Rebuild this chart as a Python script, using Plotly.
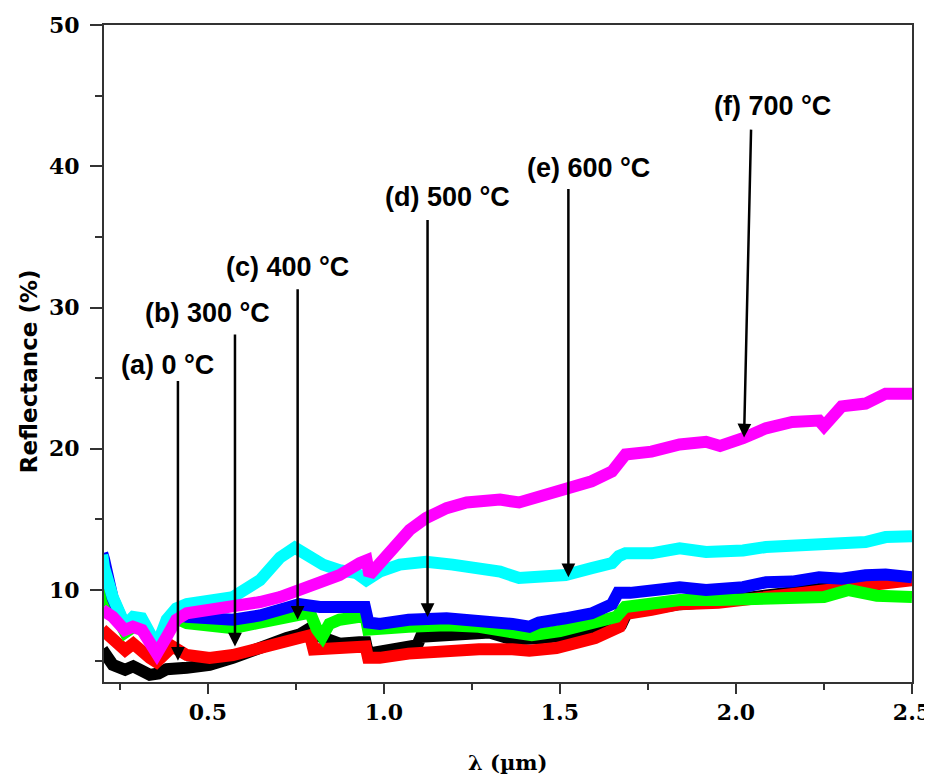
import plotly.graph_objects as go

# ---------------- data ----------------
wl_a = [0.20, 0.21, 0.23, 0.265, 0.288, 0.312, 0.335, 0.36, 0.383, 0.44, 0.505, 0.571, 0.648, 0.724,
        0.76, 0.79, 0.82, 0.874, 0.93, 0.948, 0.955, 0.988, 1.07, 1.095, 1.105, 1.178, 1.25, 1.30,
        1.365, 1.413, 1.45, 1.55, 1.65, 1.675, 1.69, 1.76, 1.84, 1.95, 2.05, 2.15, 2.25, 2.35, 2.45, 2.5]
r_a = [5.8, 5.4, 4.7, 4.35, 4.6, 4.3, 4.0, 4.1, 4.4, 4.5, 4.7, 5.2, 6.0, 6.6,
       6.85, 7.3, 6.7, 6.2, 6.3, 6.3, 5.5, 5.6, 6.0, 6.1, 6.7, 6.8, 7.1, 7.0,
       6.5, 6.45, 6.6, 6.9, 7.4, 7.6, 8.4, 8.7, 9.0, 9.2, 9.5, 9.8, 10.1, 10.5, 10.8, 10.9]

wl_b = [0.20, 0.23, 0.265, 0.288, 0.312, 0.335, 0.354, 0.383, 0.40, 0.44, 0.505, 0.571, 0.648, 0.724,
        0.76, 0.79, 0.80, 0.82, 0.874, 0.93, 0.948, 0.955, 0.988, 1.07, 1.178, 1.27, 1.365, 1.413,
        1.49, 1.6, 1.67, 1.685, 1.76, 1.84, 1.95, 2.05, 2.15, 2.25, 2.35, 2.45, 2.5]
r_b = [7.2, 6.45, 5.75, 6.2, 5.6, 5.2, 4.9, 5.6, 6.0, 5.4, 5.2, 5.4, 5.9, 6.3,
       6.5, 6.8, 5.8, 5.8, 5.9, 6.0, 6.0, 5.2, 5.2, 5.5, 5.75, 5.8, 5.8, 5.7,
       5.9, 6.6, 7.4, 8.3, 8.6, 9.0, 9.1, 9.4, 9.7, 10.0, 10.3, 10.6, 10.7]

wl_c = [0.20, 0.23, 0.265, 0.30, 0.335, 0.354, 0.383, 0.41, 0.44, 0.505, 0.571, 0.648, 0.724, 0.76,
        0.79, 0.81, 0.825, 0.845, 0.874, 0.93, 0.948, 0.955, 0.988, 1.07, 1.178, 1.27, 1.365, 1.42,
        1.5, 1.6, 1.66, 1.685, 1.76, 1.84, 1.95, 2.05, 2.15, 2.25, 2.32, 2.4, 2.5]
r_c = [10.0, 8.8, 7.0, 7.6, 6.6, 5.8, 7.0, 8.0, 7.65, 7.4, 7.3, 7.7, 8.1, 8.3,
       8.4, 7.2, 6.7, 7.6, 7.9, 8.1, 8.1, 7.2, 7.2, 7.4, 7.5, 7.4, 7.0, 6.8,
       7.1, 7.6, 8.1, 8.8, 9.0, 9.3, 9.3, 9.3, 9.5, 9.5, 10.0, 9.6, 9.5]

wl_d = [0.20, 0.205, 0.23, 0.265, 0.288, 0.312, 0.335, 0.354, 0.383, 0.41, 0.44, 0.505, 0.571, 0.648,
        0.724, 0.76, 0.818, 0.874, 0.93, 0.946, 0.956, 0.988, 1.07, 1.178, 1.27, 1.365, 1.413, 1.44,
        1.516, 1.59, 1.648, 1.665, 1.70, 1.76, 1.84, 1.915, 1.955, 2.02, 2.085, 2.16, 2.236, 2.30,
        2.368, 2.425, 2.5]
r_d = [12.6, 12.2, 9.4, 7.4, 8.0, 7.9, 6.8, 5.8, 7.7, 8.5, 8.1, 7.9, 7.9, 8.2,
       8.6, 9.0, 8.8, 8.7, 8.8, 8.8, 7.7, 7.6, 7.9, 8.0, 7.9, 7.6, 7.4, 7.7,
       8.0, 8.35, 9.0, 9.8, 9.8, 9.9, 10.2, 10.0, 10.05, 10.2, 10.55, 10.6, 10.9, 10.8,
       11.05, 11.1, 10.9]

wl_e = [0.20, 0.205, 0.23, 0.265, 0.288, 0.312, 0.335, 0.354, 0.383, 0.41, 0.44, 0.505, 0.571, 0.648,
        0.705, 0.747, 0.79, 0.827, 0.874, 0.922, 0.95, 0.988, 1.045, 1.12, 1.195, 1.272, 1.33, 1.384,
        1.44, 1.516, 1.59, 1.648, 1.667, 1.686, 1.76, 1.84, 1.915, 1.955, 2.02, 2.085, 2.16, 2.236,
        2.30, 2.368, 2.425, 2.5]
r_e = [12.5, 11.6, 9.5, 7.5, 8.1, 8.0, 6.95, 6.0, 7.9, 8.7, 9.0, 9.15, 9.5, 10.7,
       12.3, 13.0, 12.35, 11.8, 11.4, 11.2, 10.7, 11.3, 11.8, 12.0, 11.8, 11.55, 11.3, 10.85,
       10.9, 11.06, 11.55, 11.9, 12.4, 12.6, 12.6, 12.95, 12.7, 12.7, 12.8, 13.05, 13.1, 13.3,
       13.4, 13.4, 13.75, 13.8]

wl_f = [0.20, 0.23, 0.264, 0.287, 0.313, 0.335, 0.355, 0.383, 0.41, 0.44, 0.505, 0.57, 0.648, 0.705,
        0.76, 0.818, 0.874, 0.931, 0.951, 0.959, 0.988, 1.025, 1.073, 1.12, 1.178, 1.235, 1.29, 1.33,
        1.384, 1.44, 1.516, 1.59, 1.648, 1.667, 1.686, 1.76, 1.84, 1.915, 1.955, 2.02, 2.085, 2.16,
        2.236, 2.25, 2.30, 2.368, 2.425, 2.5]
r_f = [8.6, 8.1, 7.17, 7.4, 7.17, 6.1, 5.5, 6.7, 7.9, 8.35, 8.6, 8.7, 9.15, 9.5,
       10.0, 10.6, 11.06, 11.9, 12.1, 11.06, 11.9, 13.05, 14.25, 15.1, 15.8, 16.2, 16.4, 16.4,
       16.2, 16.6, 17.1, 17.7, 18.4, 19.0, 19.6, 19.8, 20.3, 20.5, 20.2, 20.75, 21.45, 21.9,
       22.0, 21.6, 23.0, 23.2, 23.9, 23.9]

series_names = ["(a) 0 °C", "(b) 300 °C", "(c) 400 °C", "(d) 500 °C", "(e) 600 °C", "(f) 700 °C"]
series_colors = ["#000000", "#ff0000", "#00ff00", "#0000ff", "#00ffff", "#ff00ff"]

# label positions (text centre) and arrow (start -> tip), in data units
label_x = [0.384, 0.500, 0.727, 1.181, 1.581, 2.105]
label_y = [25.9, 29.6, 32.9, 37.8, 39.9, 44.3]
arrow_x0 = [0.415, 0.577, 0.755, 1.124, 1.524, 2.043]
arrow_y0 = [24.9, 28.2, 31.4, 36.3, 38.5, 42.7]
arrow_x1 = [0.415, 0.577, 0.755, 1.124, 1.524, 2.023]
arrow_y1 = [5.0, 6.0, 7.9, 8.1, 10.9, 20.8]

x_tickvals = [0.5, 1.0, 1.5, 2.0, 2.5]
x_ticktext = ["0.5", "1.0", "1.5", "2.0", "2.5"]
y_tickvals = [10, 20, 30, 40, 50]
y_ticktext = ["10", "20", "30", "40", "50"]
x_title = "λ (µm)"
y_title = "Reflectance (%)"

# ---------------- figure ----------------
fig = go.Figure()
all_x = [wl_a, wl_b, wl_c, wl_d, wl_e, wl_f]
all_y = [r_a, r_b, r_c, r_d, r_e, r_f]
for xs, ys, nm, col in zip(all_x, all_y, series_names, series_colors):
    fig.add_trace(go.Scatter(x=xs, y=ys, mode="lines", name=nm,
                             line=dict(color=col, width=12), showlegend=False))

for i in range(6):
    fig.add_annotation(x=arrow_x1[i], y=arrow_y1[i], ax=arrow_x0[i], ay=arrow_y0[i],
                       xref="x", yref="y", axref="x", ayref="y", text="",
                       showarrow=True, arrowhead=2, arrowsize=1.1, arrowwidth=2.5,
                       arrowcolor="#000000", standoff=0)
    fig.add_annotation(x=label_x[i], y=label_y[i], xref="x", yref="y",
                       text=series_names[i], showarrow=False,
                       font=dict(family="Liberation Sans, Arial", size=27, color="#000000",
                                 weight="bold"))

# axis titles as annotations (placed like the reference)
fig.add_annotation(x=0.5, y=-0.123, xref="paper", yref="paper", text=x_title,
                   showarrow=False, xanchor="center", yanchor="middle",
                   font=dict(family="DejaVu Serif", size=21, color="#000000", weight="bold"))
fig.add_annotation(x=-0.0928, y=0.473, xref="paper", yref="paper", text=y_title,
                   showarrow=False, xanchor="center", yanchor="middle", textangle=-90,
                   font=dict(family="DejaVu Sans", size=23, color="#000000", weight="bold"))

axis_common = dict(showline=True, linecolor="#333333", linewidth=2, mirror=True,
                   showgrid=False, zeroline=False, ticks="outside", tickcolor="#333333",
                   tickwidth=2, automargin=False)

fig.update_xaxes(range=[0.205, 2.5], tickvals=x_tickvals, ticktext=x_ticktext, ticklen=10,
                 ticklabelstandoff=0,
                 minor=dict(ticks="outside", tickvals=[0.25, 0.75, 1.25, 1.75, 2.25], ticklen=6,
                            tickcolor="#333333", tickwidth=2),
                 tickfont=dict(family="DejaVu Serif", size=22, color="#000000", weight="bold"),
                 **axis_common)
fig.update_yaxes(range=[3.49, 50], tickvals=y_tickvals, ticktext=y_ticktext, ticklen=12,
                 ticklabelstandoff=6,
                 minor=dict(ticks="outside", tickvals=[5, 15, 25, 35, 45], ticklen=7,
                            tickcolor="#333333", tickwidth=2),
                 tickfont=dict(family="DejaVu Serif", size=22, color="#000000", weight="bold"),
                 **axis_common)

# the page adds an 8 px body margin, so the figure is smaller and margins shifted
fig.update_layout(width=924, height=768, margin=dict(l=96, r=20, t=17, b=94),
                  paper_bgcolor="white", plot_bgcolor="white")

fig.write_html("out.html")
